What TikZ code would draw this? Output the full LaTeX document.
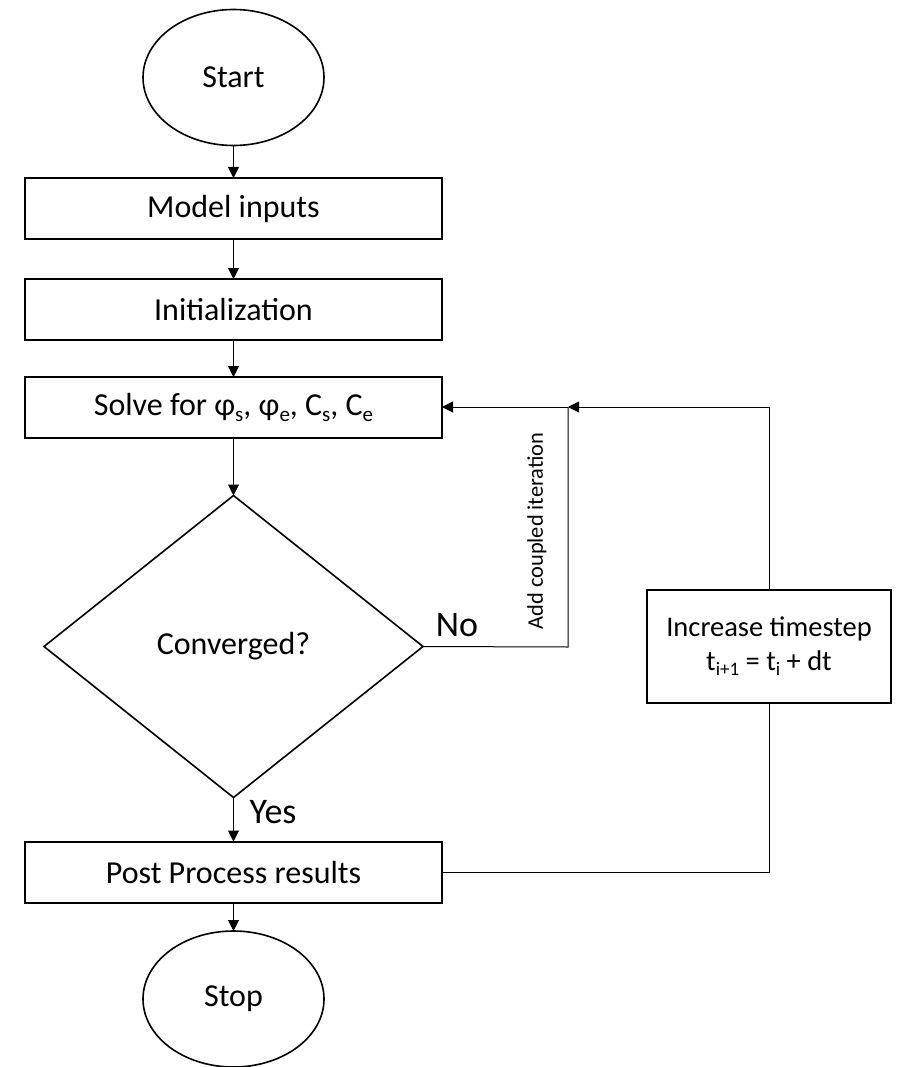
\documentclass[tikz,border=0pt]{standalone}
\usepackage{fontspec}
\setmainfont{Carlito}
\usetikzlibrary{shapes.geometric,arrows.meta}
\newcommand\mysub[1]{\raisebox{-0.18em}{\fontsize{21}{21}\selectfont #1}}
\newcommand\mysubb[1]{\raisebox{-0.18em}{\fontsize{19}{19}\selectfont #1}}
\begin{document}
\begin{tikzpicture}[x=1pt,y=-1pt,
  box/.style={draw,line width=2pt,rectangle,minimum width=417pt,minimum height=61pt,inner sep=0pt,outer sep=0pt,font=\fontsize{32}{36}\selectfont},
  term/.style={draw,line width=1.6pt,ellipse,minimum width=181pt,minimum height=136pt,inner sep=0pt,outer sep=0pt,font=\fontsize{32}{36}\selectfont},
  decision/.style={draw,line width=1.6pt,diamond,minimum width=379pt,minimum height=302pt,inner sep=0pt,outer sep=0pt,font=\fontsize{32}{36}\selectfont},
  conn/.style={line width=1pt},
  arr/.style={conn,-{Triangle[length=11pt,width=11pt]}},
  lbl/.style={font=\fontsize{36}{40}\selectfont,inner sep=0pt}
]
\useasboundingbox (0,0) rectangle (897,1067);
\node[term] (start) at (233.5,77.5) {Start};
\node[box] (model) at (233.5,208.5) {Model inputs};
\node[box] (init) at (233.5,309.5) {Initialization};
\node[box] (solve) at (233.5,407.5) {Solve for φ\mysub{s}, φ\mysub{e}, C\mysub{s}, C\mysub{e}};
\node[decision] (conv) at (233.5,646.5) {Converged?};
\node[box] (post) at (233.5,872) {Post Process results};
\node[term] (stop) at (233.5,999) {Stop};
\node[box,minimum width=244pt,minimum height=113pt,font=\fontsize{28.5}{34}\selectfont,align=center] (incr) at (769,646.5) {Increase timestep\\t\mysubb{i+1} = t\mysubb{i} + dt};
\coordinate (join) at (568,407);
\coordinate (jno) at (568,647);
\coordinate (jpost) at (769,872);
\draw[arr] (start) -- (model);
\draw[arr] (model) -- (init);
\draw[arr] (init) -- (solve);
\draw[arr] (solve) -- (conv.north);
\draw[arr] (conv.south) -- (post);
\draw[arr] (post) -- (stop);
\draw[conn] (conv.east) -- (jno) -- (join);
\draw[arr] (join) -- (solve.east |- join);
\draw[arr] (incr.north) |- (join);
\draw[conn] (post.east |- jpost) -- (jpost) -- (incr.south);
\node[lbl] (no) at (457,625) {No};
\node[lbl] (yes) at (273,812) {Yes};
\node[rotate=90,font=\fontsize{22.4}{26}\selectfont,inner sep=0pt] (aci) at (537,531) {Add coupled iteration};
\end{tikzpicture}
\end{document}
